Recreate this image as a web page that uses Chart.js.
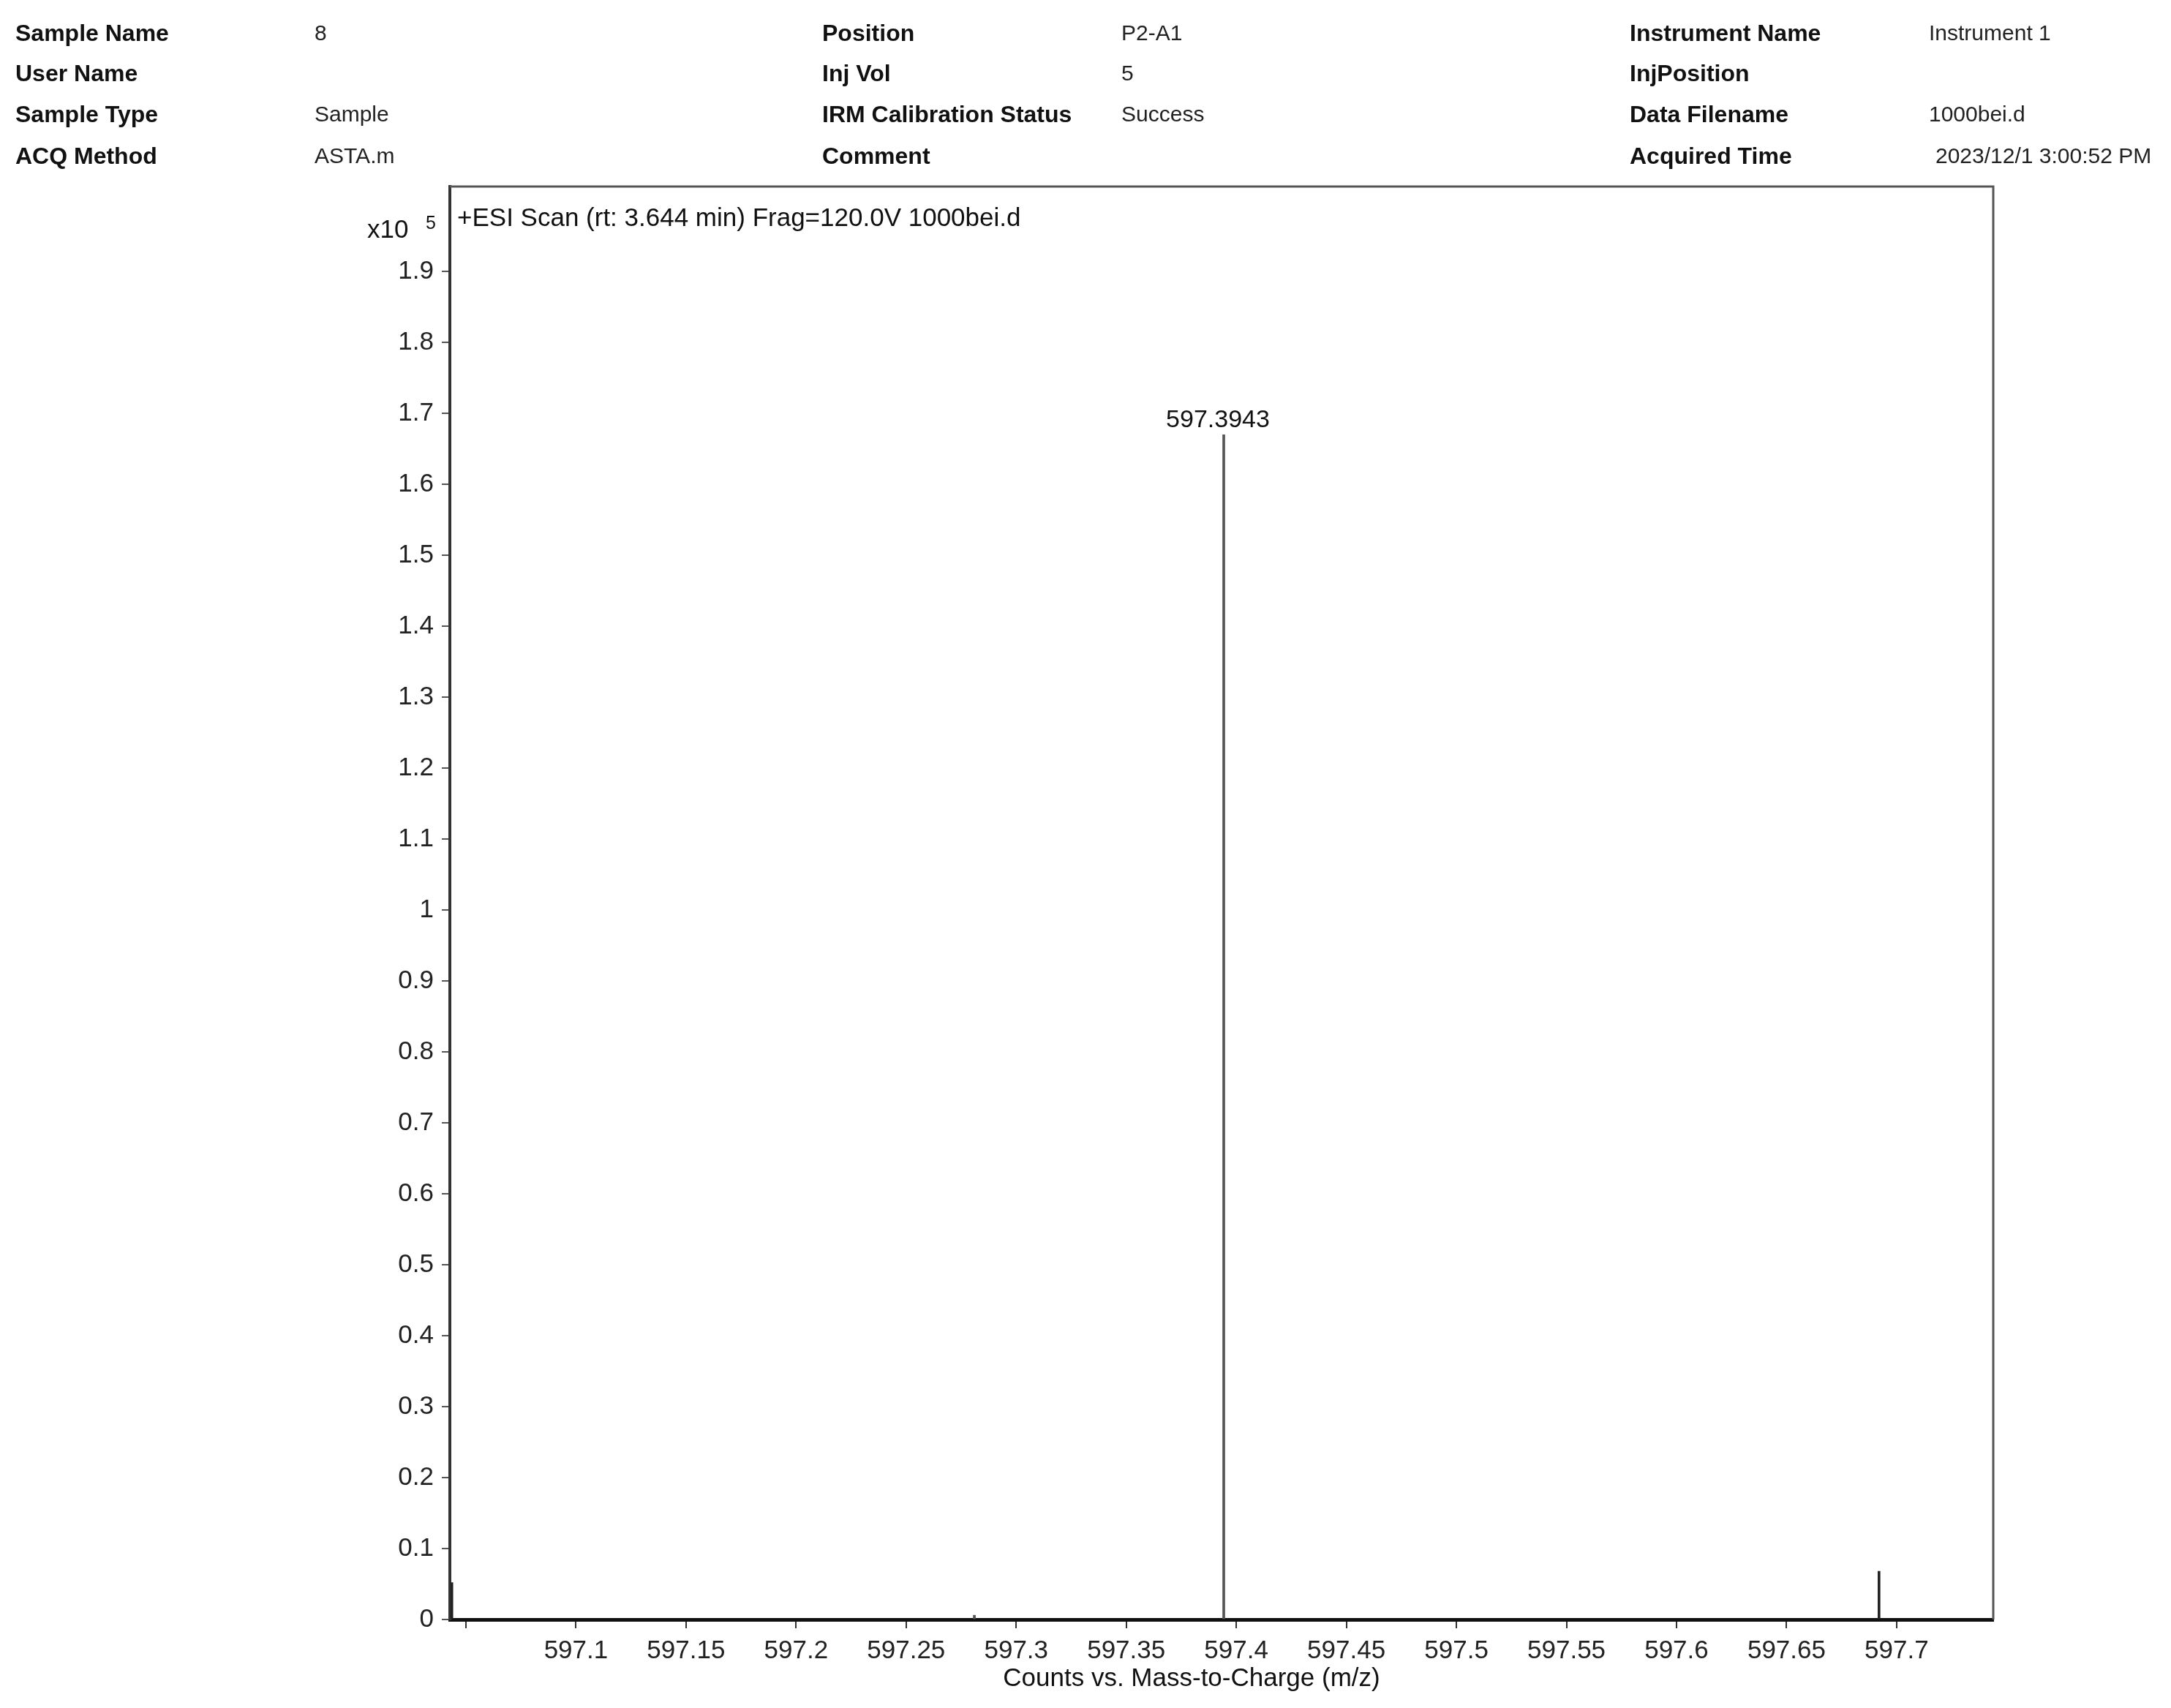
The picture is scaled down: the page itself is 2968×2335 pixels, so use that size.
<!DOCTYPE html>
<html>
<head>
<meta charset="utf-8">
<title>ESI Scan 1000bei.d</title>
<script src="https://cdn.jsdelivr.net/npm/chart.js@4.4.1/dist/chart.umd.min.js"></script>
<style>
  html, body { margin: 0; padding: 0; background: #fff; }
  #wrap { position: absolute; left: 0; top: 0; width: 2968px; height: 2335px; }
  .hd { position: absolute; height: 40px; line-height: 40px; white-space: nowrap; color: #111;
        font-family: "Liberation Sans", Arial, sans-serif; }
  .lb { font-weight: bold; font-size: 32px; }
  .vl { font-size: 30px; color: #222; }
</style>
</head>
<body>
<div id="wrap"><canvas id="specChart"></canvas></div>
<div id="header"></div>
<script>
// Spectrum data (counts are in units of 10^5)
const mzValues = [597.0436, 597.281, 597.3943, 597.692];
const intensities = [0.052, 0.006, 1.67, 0.068];
const peakColors = ['#222', '#555', '#555', '#222'];
const labelledPeaks = [2];

// Axis ticks
const xTicks = [597.05, 597.1, 597.15, 597.2, 597.25, 597.3, 597.35, 597.4, 597.45, 597.5, 597.55, 597.6, 597.65, 597.7];
const yTicks = [0, 0.1, 0.2, 0.3, 0.4, 0.5, 0.6, 0.7, 0.8, 0.9, 1, 1.1, 1.2, 1.3, 1.4, 1.5, 1.6, 1.7, 1.8, 1.9];

// Header table (label, value) per column
const headerCol1 = [['Sample Name', '8'], ['User Name', ''], ['Sample Type', 'Sample'], ['ACQ Method', 'ASTA.m']];
const headerCol2 = [['Position', 'P2-A1'], ['Inj Vol', '5'], ['IRM Calibration Status', 'Success'], ['Comment', '']];
const headerCol3 = [['Instrument Name', 'Instrument 1'], ['InjPosition', ''], ['Data Filename', '1000bei.d'], ['Acquired Time', '2023/12/1 3:00:52 PM']];

const plotTitle = '+ESI Scan (rt: 3.644 min) Frag=120.0V 1000bei.d';
const xTitle = 'Counts vs. Mass-to-Charge (m/z)';

// build header
function buildHeader() {
    var header = document.getElementById('header');
    var cols = [
        { rows: headerCol1, lx: 21, vx: 430 },
        { rows: headerCol2, lx: 1124, vx: 1533 },
        { rows: headerCol3, lx: 2228, vx: 2637 }
    ];
    var rowY = [45, 100, 156, 213];
    cols.forEach(function (col) {
        col.rows.forEach(function (r, i) {
            var l = document.createElement('div');
            l.className = 'hd lb';
            l.style.left = col.lx + 'px';
            l.style.top = (rowY[i] - 20) + 'px';
            l.textContent = r[0];
            header.appendChild(l);
            if (r[1]) {
                var v = document.createElement('div');
                v.className = 'hd vl';
                v.style.left = (r[1].length > 15 ? col.vx + 9 : col.vx) + 'px';
                v.style.top = (rowY[i] - 20) + 'px';
                v.textContent = r[1];
                header.appendChild(v);
            }
        });
    });
}
buildHeader();

const FONT = '"Liberation Sans", Arial, sans-serif';

// frame, titles and peak labels
const decorations = {
    id: 'decorations',
    afterDraw(chart) {
        const ctx = chart.ctx;
        const a = chart.chartArea;
        const xs = chart.scales.x, ys = chart.scales.y;
        ctx.save();
        // top and right border
        ctx.strokeStyle = '#555';
        ctx.lineWidth = 3;
        ctx.beginPath();
        ctx.moveTo(a.left, a.top);
        ctx.lineTo(a.right, a.top);
        ctx.lineTo(a.right, a.bottom);
        ctx.stroke();

        ctx.fillStyle = '#111';
        ctx.font = '35px ' + FONT;
        ctx.textBaseline = 'middle';
        ctx.textAlign = 'left';
        ctx.fillText(plotTitle, a.left + 10, 299);

        // exponent label
        ctx.fillText('x10', 502, 315);
        ctx.font = '25px ' + FONT;
        ctx.fillText('5', 582, 306);

        // x axis title
        ctx.font = '35px ' + FONT;
        ctx.textAlign = 'center';
        ctx.fillText(xTitle, 1629, 2295);

        // peak labels
        ctx.font = '34px ' + FONT;
        ctx.textBaseline = 'alphabetic';
        labelledPeaks.forEach(function (i) {
            const px = xs.getPixelForValue(mzValues[i]);
            const py = ys.getPixelForValue(intensities[i]);
            ctx.fillText(mzValues[i].toFixed(4), px - 8, py - 10);
        });
        ctx.restore();
    }
};

const ctx = document.getElementById('specChart').getContext('2d');
new Chart(ctx, {
    type: 'bar',
    data: {
        datasets: [{
            data: mzValues.map(function (m, i) { return { x: m, y: intensities[i] }; }),
            backgroundColor: peakColors,
            borderWidth: 0,
            barThickness: 3
        }]
    },
    options: {
        responsive: true,
        maintainAspectRatio: false,
        animation: false,
        devicePixelRatio: 1,
        layout: { padding: { left: 500, top: 255, right: 243, bottom: 21 } },
        plugins: { legend: { display: false }, tooltip: { enabled: false } },
        scales: {
            x: {
                type: 'linear',
                min: 597.0427,
                max: 597.7439,
                offset: false,
                afterBuildTicks: function (scale) { scale.ticks = xTicks.map(function (v) { return { value: v }; }); },
                afterFit: function (scale) { scale.height = 100; },
                grid: { display: true, drawOnChartArea: false, drawTicks: true, tickLength: 12, color: '#333', lineWidth: 2, offset: false },
                border: { display: true, color: '#111', width: 5 },
                ticks: {
                    autoSkip: false,
                    maxRotation: 0,
                    padding: 10,
                    color: '#222',
                    font: { family: FONT, size: 35 },
                    callback: function (v) { return v < 597.07 ? '' : String(+v.toFixed(2)); }
                }
            },
            y: {
                min: 0,
                max: 2.02,
                afterBuildTicks: function (scale) { scale.ticks = yTicks.map(function (v) { return { value: v }; }); },
                afterFit: function (scale) { scale.width = 115; },
                grid: { display: true, drawOnChartArea: false, drawTicks: true, tickLength: 11, color: '#555', lineWidth: 2 },
                border: { display: true, color: '#333', width: 4 },
                ticks: {
                    padding: 11,
                    color: '#222',
                    font: { family: FONT, size: 35 },
                    callback: function (v) { return String(+v.toFixed(1)); }
                }
            }
        }
    },
    plugins: [decorations]
});
</script>
</body>
</html>
